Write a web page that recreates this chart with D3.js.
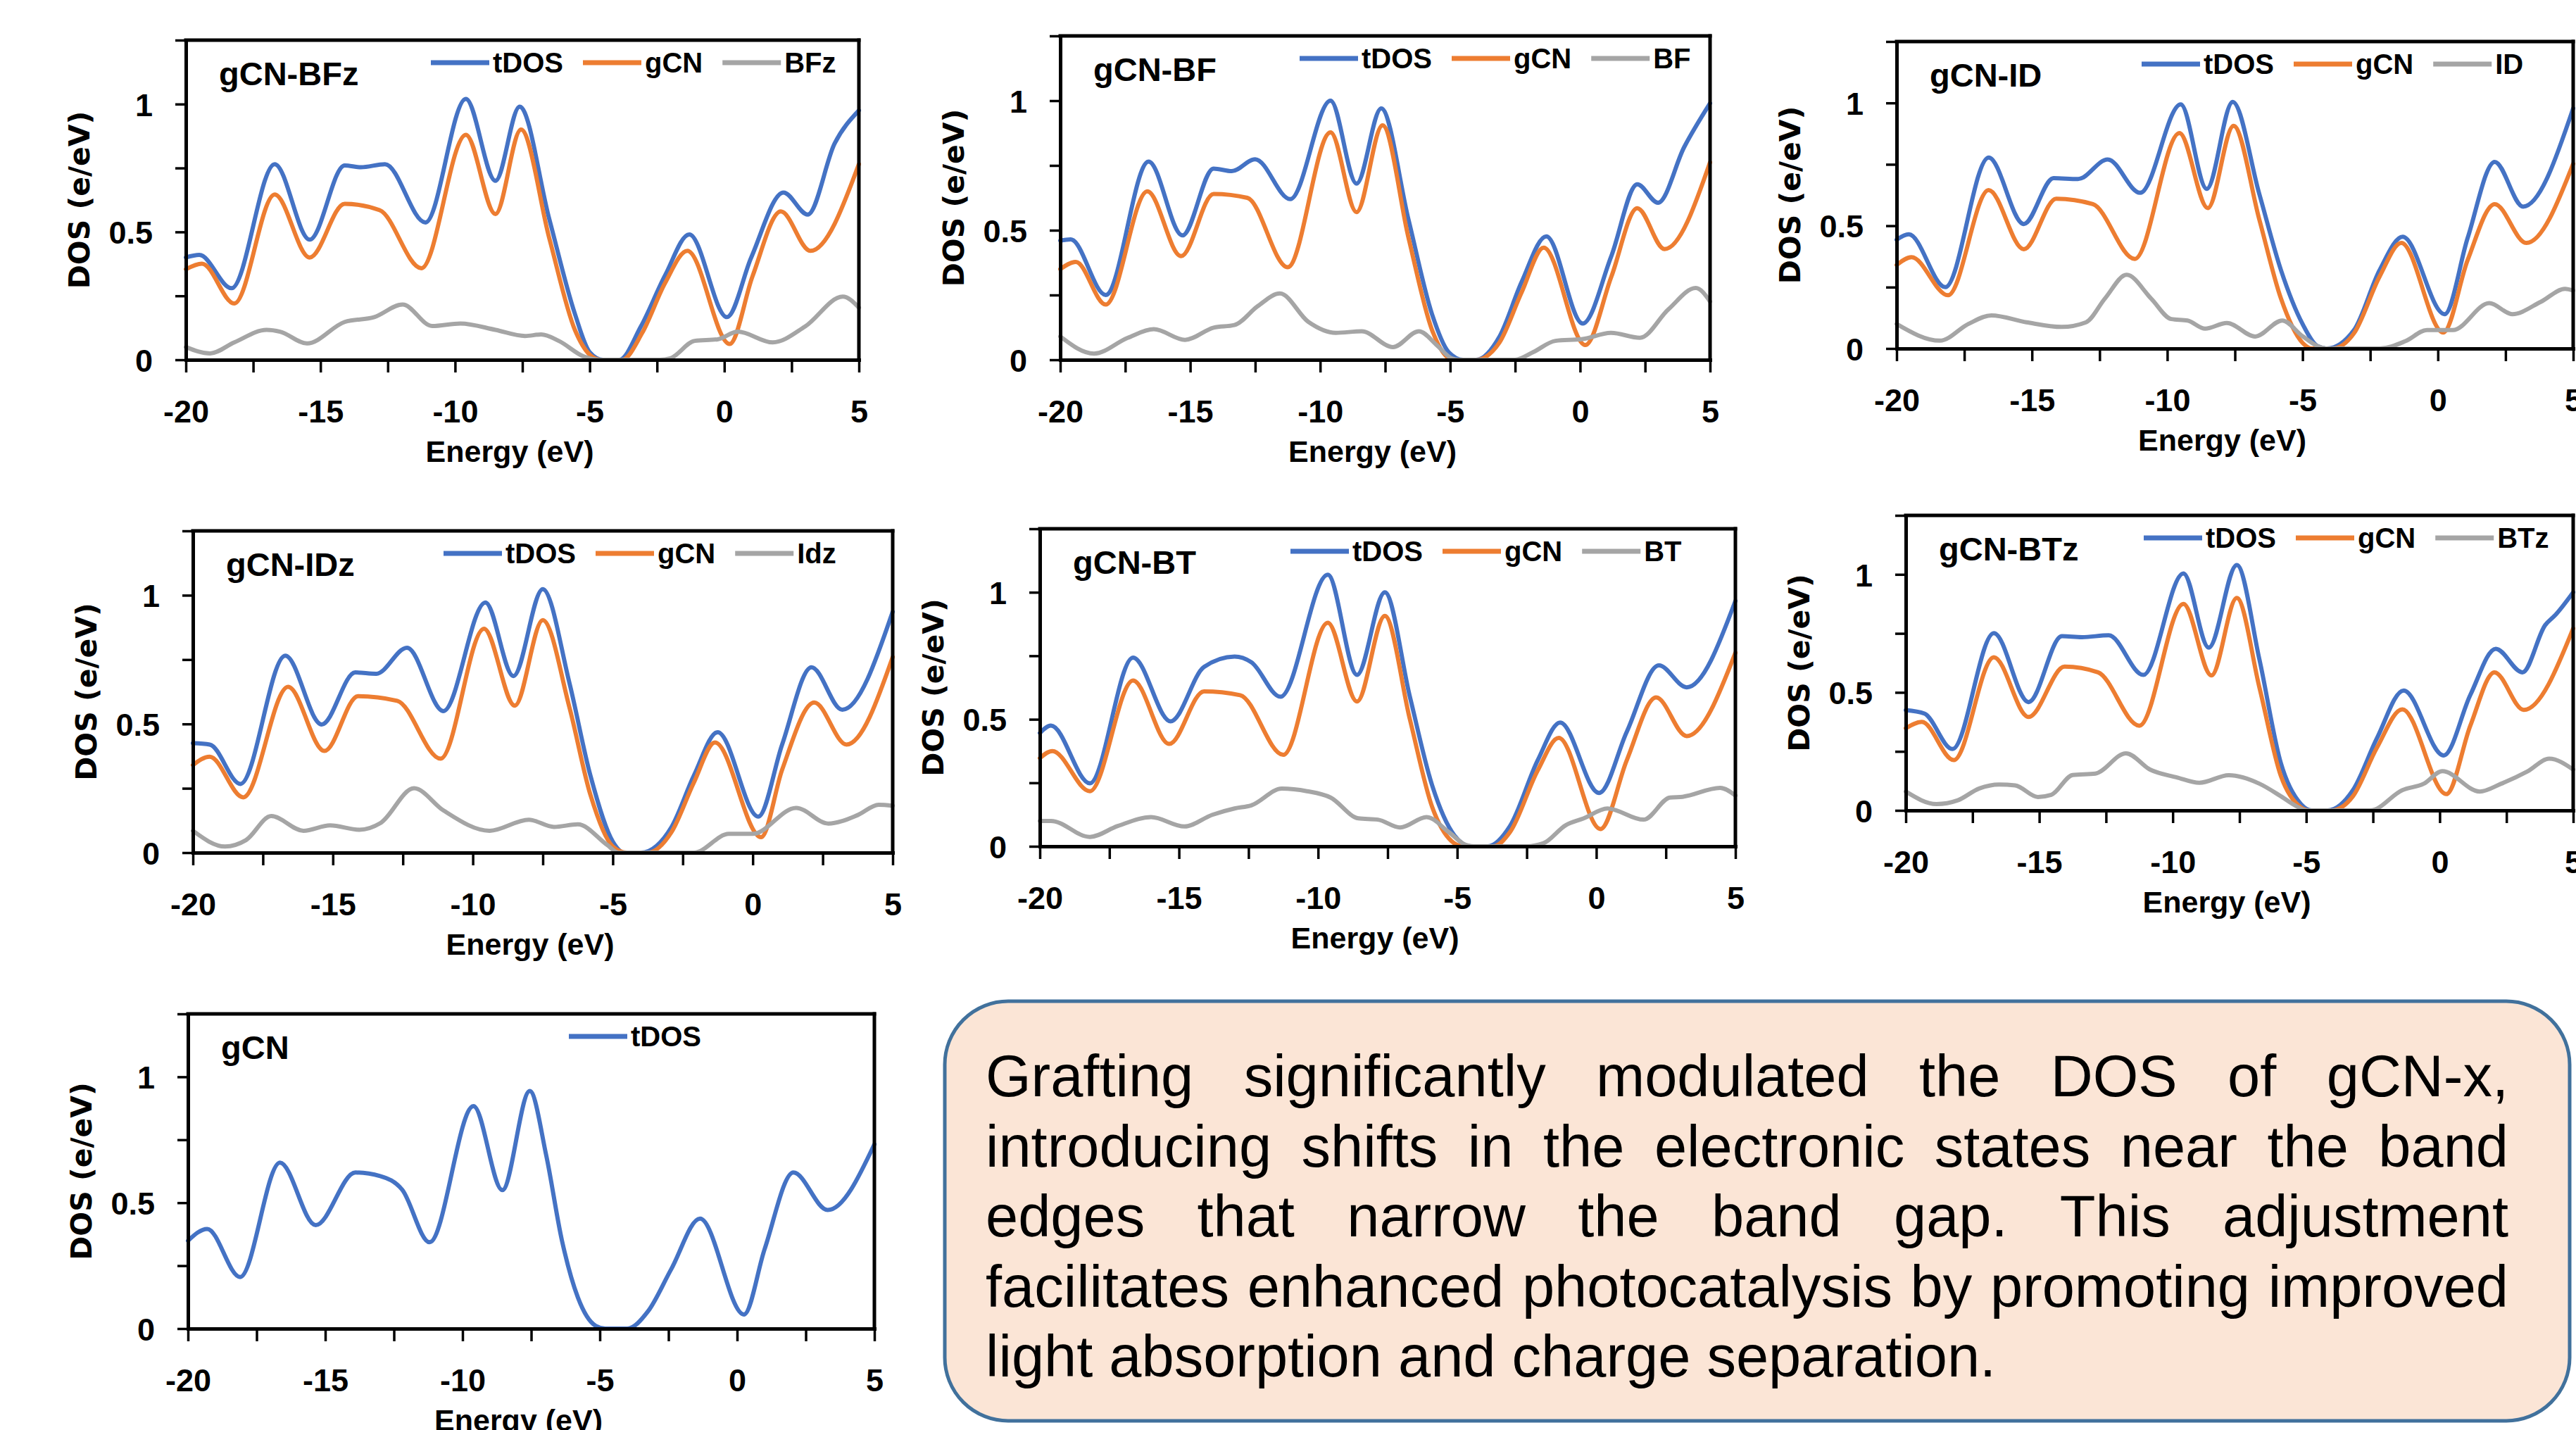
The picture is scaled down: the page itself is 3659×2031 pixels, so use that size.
<!DOCTYPE html>
<html><head><meta charset="utf-8">
<script src="https://cdn.jsdelivr.net/npm/d3@7"></script>
<style>body{margin:0;background:#fff;} svg{display:block;}</style>
</head><body>
<svg id="c" width="3659" height="2031"></svg>
<script>
// ---------------- DATA ----------------
const energyLabels = [-20, -15, -10, -5, 0, 5];
const dosLabels = [0, 0.5, 1];
const panelTitles = ["gCN-BFz", "gCN-BF", "gCN-ID", "gCN-IDz", "gCN-BT", "gCN-BTz", "gCN"];
const seriesNames = [["tDOS","gCN","BFz"],["tDOS","gCN","BF"],["tDOS","gCN","ID"],["tDOS","gCN","Idz"],["tDOS","gCN","BT"],["tDOS","gCN","BTz"],["tDOS"]];

const tdos_BFz = [[-20,0.40],[-19.5,0.41],[-18.3,0.28],[-16.7,0.765],[-15.4,0.47],[-14.1,0.76],[-13.5,0.753],[-12.6,0.765],[-11.1,0.537],[-9.6,1.02],[-8.5,0.70],[-7.6,0.99],[-6.5,0.55],[-5.55,0.18],[-5.0,0.03],[-4.5,0],[-3.9,0],[-3.1,0.13],[-2.2,0.33],[-1.3,0.49],[0.1,0.167],[1.0,0.40],[2.2,0.654],[3.1,0.568],[4.1,0.846],[5,0.975]];
const gcn_BFz = [[-20,0.354],[-19.4,0.376],[-18.2,0.22],[-16.7,0.646],[-15.4,0.40],[-14.1,0.61],[-12.8,0.585],[-11.25,0.358],[-9.6,0.88],[-8.5,0.57],[-7.55,0.90],[-6.5,0.475],[-5.55,0.117],[-5.0,0.02],[-4.6,0],[-3.8,0],[-3.05,0.105],[-2.2,0.30],[-1.37,0.426],[0.2,0.062],[1.05,0.327],[2.1,0.58],[3.2,0.426],[5,0.765]];
const graft_BFz = [[-20,0.05],[-19.1,0.025],[-18.2,0.068],[-17.0,0.117],[-16.5,0.11],[-15.5,0.064],[-14.1,0.148],[-13.0,0.167],[-11.95,0.216],[-10.85,0.132],[-9.8,0.142],[-8.5,0.117],[-7.4,0.093],[-6.8,0.099],[-6.15,0.074],[-5.2,0.012],[-4.6,0],[-2.4,0],[-2.0,0.006],[-1.1,0.074],[-0.25,0.08],[0.5,0.11],[1.8,0.068],[3.0,0.13],[4.4,0.247],[5,0.204]];

const tdos_BF = [[-20,0.46],[-19.6,0.465],[-18.25,0.25],[-16.6,0.765],[-15.3,0.48],[-14.1,0.738],[-13.4,0.728],[-12.5,0.774],[-11.15,0.62],[-9.6,1.0],[-8.6,0.68],[-7.65,0.97],[-6.6,0.54],[-5.7,0.177],[-5.06,0.03],[-4.5,0],[-4.0,0],[-3.1,0.09],[-2.25,0.30],[-1.3,0.476],[0.1,0.14],[1.2,0.40],[2.2,0.677],[3.0,0.606],[4.0,0.82],[5,0.99]];
const gcn_BF = [[-20,0.35],[-19.4,0.378],[-18.25,0.213],[-16.65,0.65],[-15.35,0.40],[-14.1,0.64],[-12.8,0.625],[-11.25,0.357],[-9.6,0.878],[-8.6,0.57],[-7.6,0.905],[-6.6,0.47],[-5.7,0.116],[-5.06,0.006],[-4.9,0],[-4.0,0],[-3.1,0.067],[-2.25,0.26],[-1.4,0.433],[0.2,0.057],[1.2,0.32],[2.2,0.585],[3.25,0.427],[5,0.762]];
const graft_BF = [[-20,0.09],[-18.7,0.024],[-17.4,0.085],[-16.4,0.118],[-15.2,0.077],[-14.1,0.124],[-13.3,0.134],[-12.4,0.207],[-11.55,0.256],[-10.45,0.146],[-9.4,0.104],[-8.4,0.11],[-7.2,0.049],[-6.2,0.11],[-5.5,0.055],[-4.95,0.006],[-4.7,0],[-2.5,0],[-1.8,0.03],[-0.95,0.073],[0.1,0.08],[1.2,0.104],[2.3,0.085],[3.4,0.195],[4.45,0.277],[5,0.225]];

const tdos_ID = [[-20,0.443],[-19.55,0.465],[-18.2,0.25],[-16.6,0.778],[-15.3,0.507],[-14.2,0.694],[-13.3,0.69],[-12.2,0.77],[-11.0,0.634],[-9.5,0.994],[-8.54,0.65],[-7.58,1.004],[-6.6,0.63],[-5.8,0.32],[-5.0,0.10],[-4.45,0.01],[-4.1,0],[-3.1,0.075],[-2.15,0.32],[-1.3,0.455],[0.25,0.14],[1.1,0.45],[2.1,0.76],[3.15,0.578],[5,0.978]];
const gcn_ID = [[-20,0.34],[-19.45,0.372],[-18.1,0.217],[-16.6,0.645],[-15.3,0.404],[-14.1,0.61],[-12.75,0.588],[-11.2,0.365],[-9.55,0.877],[-8.5,0.572],[-7.55,0.907],[-6.6,0.526],[-5.8,0.204],[-5.0,0.023],[-4.65,0],[-3.9,0],[-3.1,0.062],[-2.15,0.294],[-1.35,0.43],[0.2,0.065],[1.1,0.36],[2.1,0.588],[3.27,0.43],[5,0.752]];
const graft_ID = [[-20,0.10],[-18.4,0.032],[-17.35,0.10],[-16.5,0.135],[-15.2,0.107],[-13.9,0.088],[-13.0,0.107],[-12.3,0.204],[-11.5,0.30],[-10.6,0.204],[-9.85,0.12],[-9.25,0.114],[-8.6,0.081],[-7.8,0.104],[-6.75,0.049],[-5.75,0.114],[-5.0,0.05],[-4.45,0.01],[-4.1,0],[-2.15,0],[-1.2,0.03],[-0.4,0.075],[0.55,0.075],[1.9,0.185],[2.75,0.14],[3.8,0.19],[4.7,0.243],[5,0.236]];

const tdos_IDz = [[-20,0.425],[-19.4,0.42],[-18.3,0.267],[-16.7,0.765],[-15.4,0.498],[-14.2,0.70],[-13.45,0.695],[-12.35,0.796],[-11.05,0.55],[-9.55,0.972],[-8.55,0.686],[-7.5,1.024],[-6.55,0.66],[-5.8,0.30],[-5.0,0.043],[-4.6,0],[-4.0,0],[-2.9,0.10],[-2.1,0.30],[-1.25,0.468],[0.2,0.14],[1.05,0.42],[2.1,0.72],[3.2,0.555],[5,0.936]];
const gcn_IDz = [[-20,0.34],[-19.4,0.373],[-18.2,0.215],[-16.6,0.644],[-15.3,0.395],[-14.1,0.608],[-12.7,0.59],[-11.15,0.365],[-9.6,0.87],[-8.5,0.571],[-7.5,0.903],[-6.55,0.565],[-5.8,0.225],[-5.0,0.024],[-4.5,0],[-3.75,0],[-2.9,0.08],[-2.1,0.273],[-1.35,0.428],[0.3,0.06],[1.05,0.322],[2.2,0.583],[3.35,0.42],[5,0.76]];
const graft_IDz = [[-20,0.085],[-18.85,0.024],[-18.1,0.049],[-17.2,0.142],[-16.05,0.085],[-15.1,0.106],[-14.05,0.089],[-13.3,0.115],[-12.1,0.25],[-11.05,0.164],[-9.4,0.085],[-8.0,0.128],[-7.1,0.10],[-6.25,0.11],[-5.2,0.03],[-4.8,0],[-2.1,0],[-0.85,0.073],[0,0.073],[1.55,0.174],[2.7,0.113],[3.75,0.146],[4.5,0.186],[5,0.182]];

const tdos_BT = [[-20,0.446],[-19.6,0.475],[-18.2,0.248],[-16.65,0.743],[-15.3,0.492],[-14.1,0.706],[-13.0,0.747],[-12.4,0.725],[-11.35,0.589],[-9.65,1.069],[-8.6,0.675],[-7.6,1.0],[-6.7,0.589],[-5.9,0.24],[-5.1,0.043],[-4.5,0],[-3.9,0],[-3.1,0.08],[-2.1,0.34],[-1.3,0.487],[0.1,0.21],[1.1,0.452],[2.25,0.712],[3.25,0.626],[5,0.966]];
const gcn_BT = [[-20,0.347],[-19.55,0.375],[-18.2,0.217],[-16.65,0.653],[-15.35,0.403],[-14.1,0.61],[-12.8,0.595],[-11.25,0.36],[-9.65,0.88],[-8.6,0.57],[-7.6,0.907],[-6.7,0.50],[-5.9,0.155],[-5.2,0.02],[-4.8,0],[-3.7,0],[-3.1,0.056],[-2.1,0.30],[-1.35,0.427],[0.15,0.068],[1.1,0.34],[2.15,0.586],[3.25,0.434],[5,0.762]];
const graft_BT = [[-20,0.10],[-19.6,0.10],[-18.2,0.037],[-17.2,0.08],[-16.0,0.115],[-14.8,0.078],[-13.8,0.124],[-13.0,0.149],[-12.4,0.161],[-11.3,0.227],[-10.4,0.217],[-9.55,0.192],[-8.55,0.11],[-7.85,0.105],[-7.05,0.074],[-6.1,0.115],[-5.3,0.056],[-4.7,0.006],[-4.4,0],[-2.5,0],[-1.9,0.012],[-1.1,0.083],[-0.45,0.11],[0.4,0.149],[1.7,0.105],[2.65,0.192],[3.1,0.195],[4.45,0.23],[5,0.20]];

const tdos_BTz = [[-20,0.425],[-19.3,0.41],[-18.25,0.26],[-16.7,0.751],[-15.4,0.459],[-14.15,0.738],[-13.4,0.734],[-12.4,0.742],[-11.1,0.574],[-9.6,1.004],[-8.65,0.69],[-7.6,1.04],[-6.75,0.638],[-5.95,0.20],[-5.2,0.027],[-4.8,0],[-4.2,0],[-3.25,0.086],[-2.35,0.306],[-1.35,0.508],[0.15,0.233],[1.15,0.49],[2.1,0.685],[3.1,0.585],[3.95,0.785],[4.35,0.83],[5,0.924]];
const gcn_BTz = [[-20,0.348],[-19.4,0.375],[-18.2,0.213],[-16.7,0.649],[-15.4,0.396],[-14.05,0.609],[-12.8,0.585],[-11.25,0.359],[-9.6,0.875],[-8.55,0.572],[-7.6,0.90],[-6.75,0.519],[-5.95,0.146],[-5.2,0.013],[-4.9,0],[-4.05,0],[-3.25,0.06],[-2.35,0.266],[-1.4,0.428],[0.25,0.069],[1.15,0.36],[2.05,0.585],[3.15,0.426],[5,0.771]];
const graft_BTz = [[-20,0.08],[-18.85,0.027],[-18.05,0.043],[-17.25,0.093],[-16.5,0.11],[-15.9,0.106],[-15.05,0.057],[-14.55,0.066],[-13.75,0.15],[-12.9,0.156],[-11.75,0.242],[-10.85,0.173],[-9.85,0.14],[-9.0,0.117],[-7.9,0.149],[-6.75,0.113],[-5.95,0.06],[-5.4,0.02],[-5.0,0],[-2.6,0],[-1.4,0.086],[-0.6,0.113],[0.1,0.166],[1.5,0.08],[2.3,0.113],[3.3,0.166],[4.1,0.219],[5,0.173]];

const tdos_gCN = [[-20,0.349],[-19.3,0.396],[-18.1,0.205],[-16.65,0.659],[-15.35,0.411],[-13.9,0.62],[-13.0,0.606],[-12.2,0.552],[-11.2,0.343],[-9.6,0.884],[-8.55,0.55],[-7.55,0.944],[-6.95,0.687],[-6.38,0.35],[-5.8,0.124],[-5.15,0.011],[-4.8,0],[-4.0,0],[-3.25,0.068],[-2.4,0.236],[-1.35,0.437],[0.25,0.056],[1.0,0.315],[2.05,0.62],[3.3,0.471],[5,0.732]];

const panelSeries = [
  [tdos_BFz, gcn_BFz, graft_BFz],
  [tdos_BF, gcn_BF, graft_BF],
  [tdos_ID, gcn_ID, graft_ID],
  [tdos_IDz, gcn_IDz, graft_IDz],
  [tdos_BT, gcn_BT, graft_BT],
  [tdos_BTz, gcn_BTz, graft_BTz],
  [tdos_gCN]
];

const noteLines = [
  "Grafting significantly modulated the DOS of gCN-x,",
  "introducing shifts in the electronic states near the band",
  "edges that narrow the band gap. This adjustment",
  "facilitates enhanced photocatalysis by promoting improved",
  "light absorption and charge separation."
];

// ---------------- LAYOUT / STYLE ----------------
const layout = [
  {l:264,  r:1220, t:57,   b:511},
  {l:1506, r:2429, t:51,   b:511},
  {l:2694, r:3655, t:59,   b:495},
  {l:274,  r:1268, t:754,  b:1211},
  {l:1477, r:2465, t:751,  b:1202},
  {l:2707, r:3655, t:732,  b:1151},
  {l:267,  r:1242, t:1440, b:1887}
];
const legendStart = [612, 1846, 3042, 630, 1833, 3045, 808];
const colors = ["#4472c4", "#ed7d31", "#a5a5a5"];
const SANS = '"Liberation Sans", Arial, sans-serif';
const GOTHIC = '"DejaVu Sans", Verdana, sans-serif';

const svg = d3.select("#c");
svg.append("rect").attr("width",3659).attr("height",2031).attr("fill","#fff");

panelTitles.forEach((title, i) => {
  const L = layout[i];
  const x = d3.scaleLinear().domain([-20, 5]).range([L.l, L.r]);
  const y = d3.scaleLinear().domain([0, 1.25]).range([L.b, L.t]);
  const g = svg.append("g");

  const line = d3.line().x(d => x(d[0])).y(d => y(d[1])).curve(d3.curveMonotoneX);
  panelSeries[i].forEach((vals, k) => {
    g.append("path").attr("d", line(vals)).attr("fill", "none")
      .attr("stroke", colors[k]).attr("stroke-width", 6)
      .attr("stroke-linejoin", "round").attr("stroke-linecap", "round");
  });

  // frame top & right
  g.append("line").attr("x1", L.l).attr("x2", L.r).attr("y1", L.t).attr("y2", L.t)
    .attr("stroke", "#000").attr("stroke-width", 5).attr("stroke-linecap", "square");
  g.append("line").attr("x1", L.r).attr("x2", L.r).attr("y1", L.t).attr("y2", L.b)
    .attr("stroke", "#000").attr("stroke-width", 5).attr("stroke-linecap", "square");

  const xTicks = d3.range(-20, 5.01, 2.5);
  const xa = d3.axisBottom(x).tickValues(xTicks)
    .tickFormat(d => energyLabels.includes(d) ? String(d) : "")
    .tickSize(18).tickSizeOuter(0);
  const gx = g.append("g").attr("transform", `translate(0,${L.b})`).call(xa);
  gx.select(".domain").attr("stroke", "#000").attr("stroke-width", 5).attr("stroke-linecap", "square");
  gx.selectAll(".tick line").attr("stroke", "#000").attr("stroke-width", 3.5);
  gx.selectAll(".tick text").attr("y", 89).attr("dy", 0)
    .attr("font-family", SANS).attr("font-weight", "bold").attr("font-size", 45).attr("fill", "#000");

  const yTicks = d3.range(0, 1.251, 0.25);
  const ya = d3.axisLeft(y).tickValues(yTicks)
    .tickFormat(d => dosLabels.includes(d) ? String(d) : "")
    .tickSize(15).tickPadding(32).tickSizeOuter(0);
  const gy = g.append("g").attr("transform", `translate(${L.l},0)`).call(ya);
  gy.select(".domain").attr("stroke", "#000").attr("stroke-width", 5).attr("stroke-linecap", "square");
  gy.selectAll(".tick line").attr("stroke", "#000").attr("stroke-width", 3.5);
  gy.selectAll(".tick text").attr("dy", "0.36em")
    .attr("font-family", SANS).attr("font-weight", "bold").attr("font-size", 45).attr("fill", "#000");

  // axis titles
  g.append("text").attr("x", (L.l + L.r) / 2 - 18).attr("y", L.b + 145)
    .attr("text-anchor", "middle").attr("font-family", SANS).attr("font-weight", "bold")
    .attr("font-size", 43).text("Energy (eV)");
  g.append("text").attr("transform", `translate(${L.l - 152},${(L.t + L.b) / 2}) rotate(-90)`)
    .attr("text-anchor", "middle").attr("dy", "0.36em").attr("font-family", GOTHIC)
    .attr("font-weight", "bold").attr("font-size", 41).text("DOS (e/eV)");

  // panel title
  g.append("text").attr("x", L.l + 47).attr("y", L.t + 64)
    .attr("font-family", SANS).attr("font-weight", "bold").attr("font-size", 47).text(title);

  // legend
  let cx = legendStart[i];
  const ly = L.t + 32;
  seriesNames[i].forEach((nm, k) => {
    g.append("line").attr("x1", cx).attr("x2", cx + 83).attr("y1", ly).attr("y2", ly)
      .attr("stroke", colors[k]).attr("stroke-width", 7);
    const t = g.append("text").attr("x", cx + 88).attr("y", ly + 14)
      .attr("font-family", SANS).attr("font-weight", "bold").attr("font-size", 40).text(nm);
    cx += 88 + t.node().getComputedTextLength() + 28;
  });
});

// ---------------- NOTE BOX ----------------
svg.append("rect").attr("x", 1342).attr("y", 1422).attr("width", 2308).attr("height", 596)
  .attr("rx", 90).attr("ry", 90).attr("fill", "#fbe5d6").attr("stroke", "#41719c").attr("stroke-width", 5);

const textLeft = 1400, textRight = 3563, baseline0 = 1557, lineGap = 99.5;
noteLines.forEach((ln, li) => {
  const words = ln.split(" ");
  const yb = baseline0 + li * lineGap;
  const nodes = words.map(w => svg.append("text").attr("y", yb)
    .attr("font-family", SANS).attr("font-size", 83)
    .attr("fill", "#000").text(w));
  const widths = nodes.map(n => n.node().getComputedTextLength());
  const total = d3.sum(widths);
  const last = li === noteLines.length - 1;
  const gap = last ? 83 * 0.278 : (textRight - textLeft - total) / (words.length - 1);
  let cx = textLeft;
  nodes.forEach((n, k) => { n.attr("x", cx); cx += widths[k] + gap; });
});
</script>
</body></html>
